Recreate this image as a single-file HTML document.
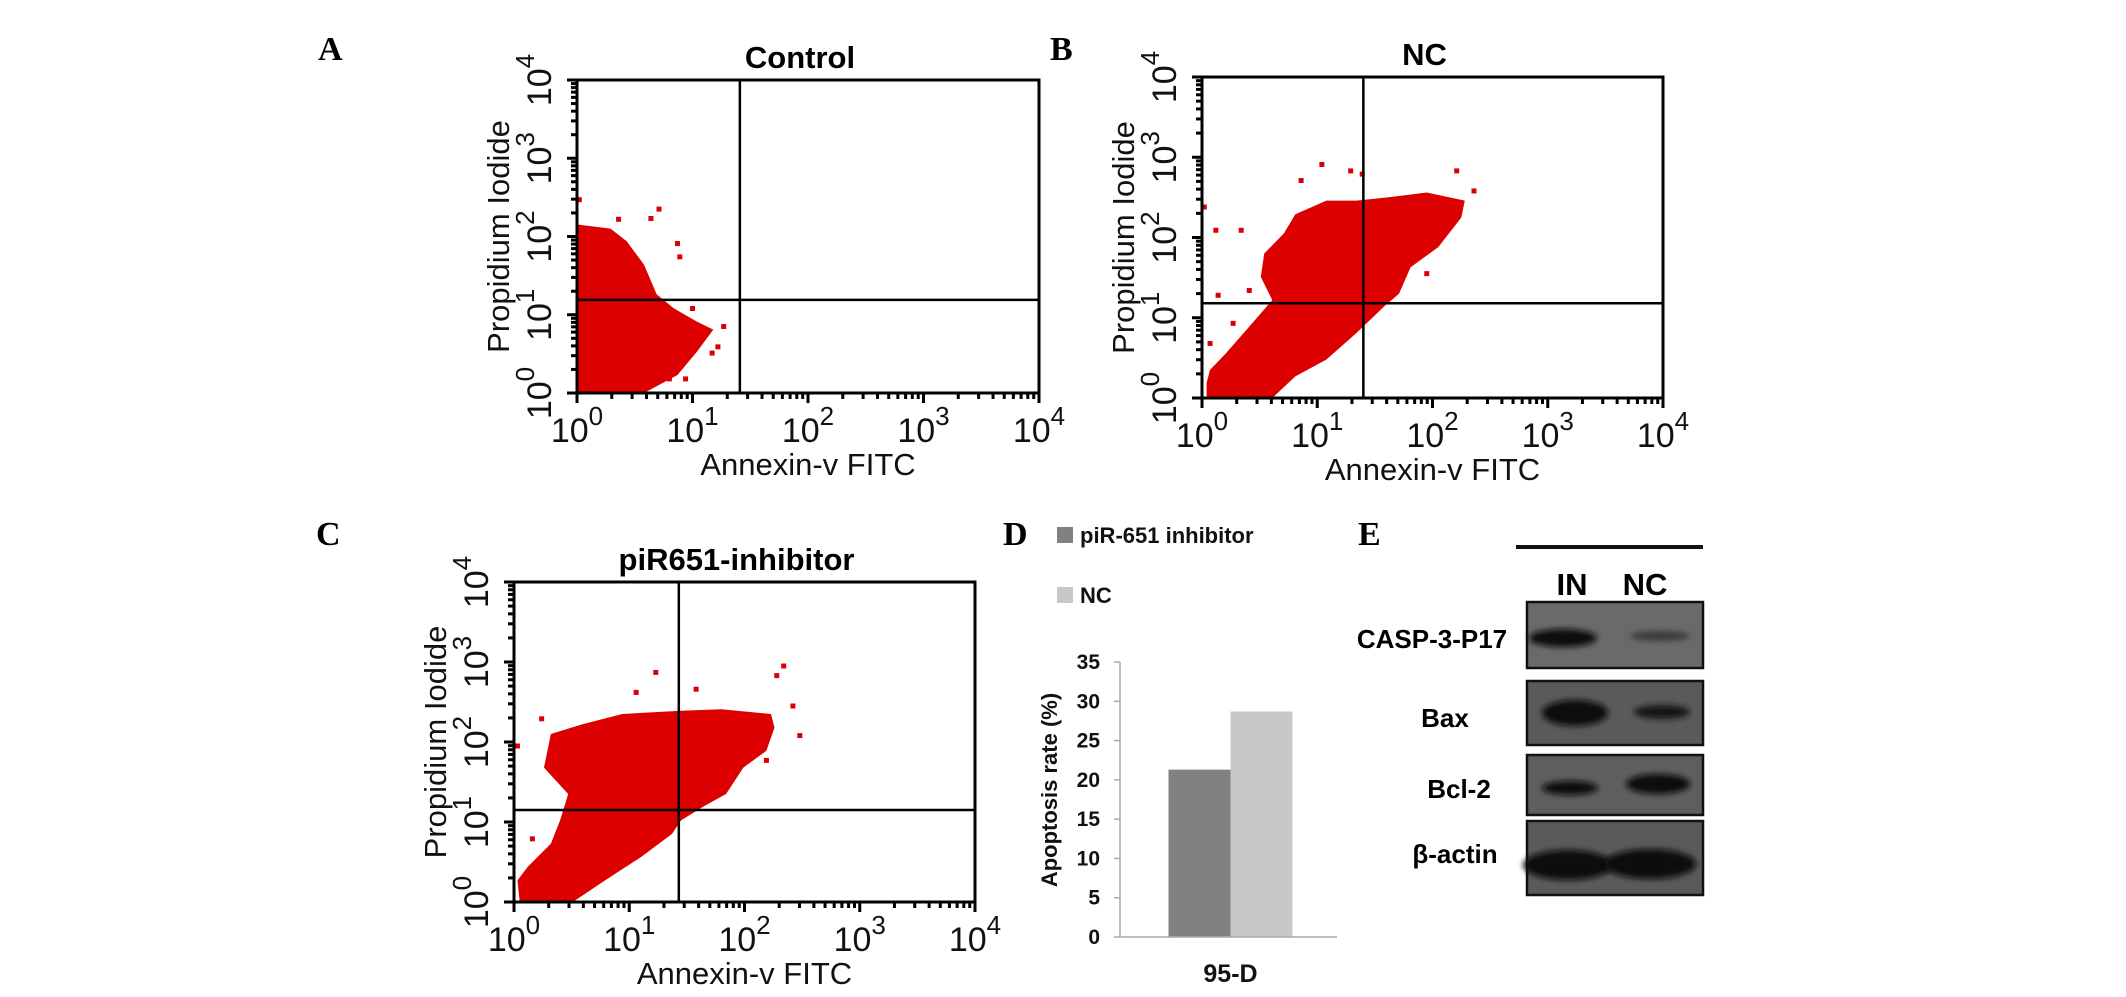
<!DOCTYPE html>
<html><head><meta charset="utf-8"><style>
html,body{margin:0;padding:0;background:#fff}
svg{display:block}
text{font-family:"Liberation Sans",sans-serif}
.let{font-family:"Liberation Serif",serif;font-weight:bold;font-size:34px}
</style></head><body>
<svg id="fig" width="2126" height="997" viewBox="0 0 2126 997" xmlns="http://www.w3.org/2000/svg">
<defs><filter id="blur" x="-20%" y="-50%" width="140%" height="200%"><feGaussianBlur stdDeviation="3"/></filter></defs>
<text class="let" x="318" y="60">A</text>
<text class="let" x="1050" y="60">B</text>
<text class="let" x="316" y="545">C</text>
<text class="let" x="1003" y="545">D</text>
<text class="let" x="1358" y="545">E</text>
<g id="flow"></g>
<g id="bars"></g>
<g id="blot"></g>
</svg>
<script>
// ---- flow cytometry data (log decades) ----
const titles = ["Control", "NC", "piR651-inhibitor"];
const gateA = [1.41, 1.19];
const gateB = [1.40, 1.18];
const gateC = [1.43, 1.15];
const denseA = [[0,0],[0.58,0],[0.87,0.23],[1.04,0.53],[1.18,0.81],[1.04,0.91],[0.84,1.08],[0.69,1.26],[0.58,1.64],[0.43,1.94],[0.29,2.10],[0.02,2.15],[0,2.15]];
const outA = [[0.71,2.35],[0.64,2.23],[0.87,1.91],[0.89,1.74],[1.0,1.08],[1.27,0.85],[1.22,0.59],[1.17,0.51],[0.80,0.18],[0.94,0.18],[0.36,2.22],[0.02,2.47]];
const denseB = [[0.04,0],[0.61,0],[0.81,0.27],[1.08,0.48],[1.34,0.81],[1.58,1.14],[1.71,1.30],[1.81,1.63],[2.05,1.88],[2.25,2.25],[2.28,2.46],[1.95,2.56],[1.61,2.50],[1.34,2.46],[1.08,2.46],[0.81,2.29],[0.71,2.05],[0.54,1.80],[0.51,1.51],[0.61,1.22],[0.41,0.89],[0.21,0.56],[0.07,0.35],[0.04,0.19]];
const outB = [[1.04,2.91],[1.39,2.79],[2.21,2.83],[2.36,2.58],[0.34,2.09],[0.12,2.09],[0.02,2.38],[0.14,1.28],[0.41,1.34],[1.95,1.55],[0.07,0.68],[0.27,0.93],[1.29,2.83],[0.86,2.71]];
const denseC = [[0.05,0],[0.51,0],[0.79,0.27],[1.10,0.56],[1.37,0.85],[1.45,1.02],[1.64,1.19],[1.84,1.35],[1.99,1.68],[2.19,1.89],[2.26,2.18],[2.23,2.35],[1.80,2.41],[1.45,2.39],[0.94,2.35],[0.59,2.22],[0.32,2.10],[0.26,1.68],[0.47,1.35],[0.40,1.02],[0.32,0.73],[0.12,0.44],[0.03,0.27]];
const outC = [[1.23,2.87],[2.34,2.95],[2.28,2.83],[2.48,2.08],[2.42,2.45],[1.06,2.62],[0.24,2.29],[0.16,0.79],[1.58,2.66],[2.19,1.77],[0.03,1.95]];
const decadeLabels = ["0","1","2","3","4"];

// ---- bar chart data ----
const categories = ["95-D"];
const inhibitorVals = [21.3];
const ncVals = [28.7];
const yTicks = [0,5,10,15,20,25,30,35];
const legendLabels = ["piR-651 inhibitor","NC"];

const NS = "http://www.w3.org/2000/svg";
function mk(tag, attrs, parent){const e=document.createElementNS(NS,tag);for(const k in attrs)e.setAttribute(k,attrs[k]);parent.appendChild(e);return e;}

const flow = document.getElementById('flow');
const layouts = [{x:577,y:80,w:462,h:313},{x:1202,y:77,w:461,h:321},{x:514,y:582,w:461,h:320}];
const denses = [denseA, denseB, denseC];
const outs = [outA, outB, outC];
const gates = [gateA, gateB, gateC];
const names = ["control","nc","inhibitor"];

layouts.forEach((p, i) => {
  const sx = d => p.x + d / 4 * p.w;
  const sy = d => p.y + p.h - d / 4 * p.h;
  const g = mk('g', {}, flow);
  
  
  const poly = mk('polygon', {points: denses[i].map(q => sx(q[0]) + ',' + sy(q[1])).join(' '), fill: '#dc0000'}, g);
  
  
  outs[i].forEach(q => {
    const r = mk('rect', {x: sx(q[0]) - 2.5, y: sy(q[1]) - 2.5, width: 5, height: 5, fill: '#dc0000'}, g);
    
    
  });
  const box = mk('rect', {x: p.x, y: p.y, width: p.w, height: p.h, fill: 'none', stroke: '#000', 'stroke-width': 3}, g);
  
  
  const vg = mk('line', {x1: sx(gates[i][0]), x2: sx(gates[i][0]), y1: p.y, y2: p.y + p.h, stroke: '#000', 'stroke-width': 2.5}, g);
  
  
  const hg = mk('line', {x1: p.x, x2: p.x + p.w, y1: sy(gates[i][1]), y2: sy(gates[i][1]), stroke: '#000', 'stroke-width': 2.5}, g);
  
  
  // ticks
  for (let dec = 0; dec < 4; dec++) {
    for (let m = 1; m <= 9; m++) {
      const d = dec + Math.log10(m);
      const len = m === 1 ? 10 : 6;
      mk('line', {x1: sx(d), x2: sx(d), y1: p.y + p.h, y2: p.y + p.h + len, stroke: '#000', 'stroke-width': 3}, g);
      mk('line', {x1: p.x, x2: p.x - len, y1: sy(d), y2: sy(d), stroke: '#000', 'stroke-width': 3}, g);
    }
  }
  mk('line', {x1: sx(4), x2: sx(4), y1: p.y + p.h, y2: p.y + p.h + 10, stroke: '#000', 'stroke-width': 3}, g);
  mk('line', {x1: p.x, x2: p.x - 10, y1: sy(4), y2: sy(4), stroke: '#000', 'stroke-width': 3}, g);
  decadeLabels.forEach((lab, k) => {
    const t = mk('text', {x: sx(k), y: p.y + p.h + 49, 'font-size': 34, 'text-anchor': 'middle', fill: '#111'}, g);
    
    
    t.innerHTML = '10<tspan font-size="26" dy="-17">' + lab + '</tspan>';
    const gy = mk('g', {transform: 'translate(' + (p.x - 26) + ',' + sy(k) + ') rotate(-90)'}, g);
    const ty = mk('text', {x: 0, y: 0, 'font-size': 34, 'text-anchor': 'middle', fill: '#111'}, gy);
    
    
    ty.innerHTML = '10<tspan font-size="26" dy="-17">' + lab + '</tspan>';
  });
  const xl = mk('text', {x: p.x + p.w / 2, y: p.y + p.h + 82, 'font-size': 31, 'text-anchor': 'middle', fill: '#111'}, g);
  
  
  xl.textContent = 'Annexin-v FITC';
  const gl = mk('g', {transform: 'translate(' + (p.x - 68) + ',' + (p.y + p.h / 2) + ') rotate(-90)'}, g);
  const yl = mk('text', {x: 0, y: 0, 'font-size': 31, 'text-anchor': 'middle', fill: '#111'}, gl);
  
  
  yl.textContent = 'Propidium Iodide';
  const tt = mk('text', {x: p.x + p.w / 2 - 8, y: p.y - 12, 'font-size': 31, 'font-weight': 'bold', 'text-anchor': 'middle', fill: '#000'}, g);
  
  
  tt.textContent = titles[i];
});

// ---- bar chart D ----
const bars = document.getElementById('bars');
const ax = {x0: 1120, x1: 1337, y0: 937, y35: 662};
const by = v => ax.y0 - v / 35 * (ax.y0 - ax.y35);
const band = (ax.x1 - ax.x0) / categories.length;
const bw = 62;
mk('line', {x1: ax.x0, x2: ax.x0, y1: ax.y35, y2: ax.y0, stroke: '#aaa', 'stroke-width': 1.5}, bars);
yTicks.forEach(v => {
  mk('line', {x1: ax.x0 - 6, x2: ax.x0, y1: by(v), y2: by(v), stroke: '#aaa', 'stroke-width': 1.5}, bars);
  const t = mk('text', {x: 1100, y: by(v) + 7, 'font-size': 21, 'font-weight': 'bold', 'text-anchor': 'end', fill: '#111'}, bars);
  
  
  t.textContent = v;
});
categories.forEach((c, i) => {
  const cx = ax.x0 + band * (i + 0.5) + 2;
  const r1 = mk('rect', {x: cx - bw, y: by(inhibitorVals[i]), width: bw, height: ax.y0 - by(inhibitorVals[i]), fill: '#818181'}, bars);
  
  
  const r2 = mk('rect', {x: cx, y: by(ncVals[i]), width: bw, height: ax.y0 - by(ncVals[i]), fill: '#c8c8c8'}, bars);
  
  
  const t = mk('text', {x: cx, y: 982, 'font-size': 25, 'font-weight': 'bold', 'text-anchor': 'middle', fill: '#111'}, bars);
  
  
  t.textContent = c;
});
mk('line', {x1: ax.x0, x2: ax.x1, y1: ax.y0, y2: ax.y0, stroke: '#aaa', 'stroke-width': 1.5}, bars);
const gyt = mk('g', {transform: 'translate(1057,790) rotate(-90)'}, bars);
const yt = mk('text', {x: 0, y: 0, 'font-size': 22, 'font-weight': 'bold', 'text-anchor': 'middle', fill: '#111'}, gyt);


yt.textContent = 'Apoptosis rate (%)';
const legCols = ['#818181', '#c8c8c8'];
const legY = [527, 587];
legendLabels.forEach((l, i) => {
  const s = mk('rect', {x: 1057, y: legY[i], width: 16, height: 16, fill: legCols[i]}, bars);
  
  
  const t = mk('text', {x: 1080, y: legY[i] + 16, 'font-size': 22, 'font-weight': 'bold', fill: '#111'}, bars);
  
  
  t.textContent = l;
});

// ---- western blot E ----
const blot = document.getElementById('blot');
const bl = mk('line', {x1: 1516, x2: 1703, y1: 547, y2: 547, stroke: '#111', 'stroke-width': 4}, blot);


const laneLabels = [['IN', 1572], ['NC', 1645]];
laneLabels.forEach(l => {
  const t = mk('text', {x: l[1], y: 595, 'font-size': 31, 'font-weight': 'bold', 'text-anchor': 'middle', fill: '#000'}, blot);
  
  
  t.textContent = l[0];
});
const blots = [
  {name: 'CASP-3-P17', y: 602, h: 66, bg: '#6a6a6a', lx: 1432, ly: 648, bands: [[1563, 638, 34, 9, '#111'], [1660, 636, 30, 5, '#3a3a3a']]},
  {name: 'Bax', y: 681, h: 64, bg: '#5a5a5a', lx: 1445, ly: 727, bands: [[1575, 713, 33, 13, '#0a0a0a'], [1662, 712, 28, 7, '#151515']]},
  {name: 'Bcl-2', y: 755, h: 60, bg: '#5e5e5e', lx: 1459, ly: 798, bands: [[1570, 788, 28, 7, '#111'], [1658, 784, 32, 10, '#0a0a0a']]},
  {name: 'β-actin', y: 821, h: 74, bg: '#5a5a5a', lx: 1455, ly: 863, bands: [[1568, 865, 45, 15, '#080808'], [1650, 864, 46, 15, '#080808']]}
];
blots.forEach(b => {
  const r = mk('rect', {x: 1527, y: b.y, width: 176, height: b.h, fill: b.bg, stroke: '#111', 'stroke-width': 2.5}, blot);
  
  
  b.bands.forEach(q => {
    const e = mk('ellipse', {cx: q[0], cy: q[1], rx: q[2], ry: q[3], fill: q[4], filter: 'url(#blur)'}, blot);
    
    
  });
  const t = mk('text', {x: b.lx, y: b.ly, 'font-size': 26, 'font-weight': 'bold', 'text-anchor': 'middle', fill: '#000'}, blot);
  
  
  t.textContent = b.name;
});
</script>
</body></html>
